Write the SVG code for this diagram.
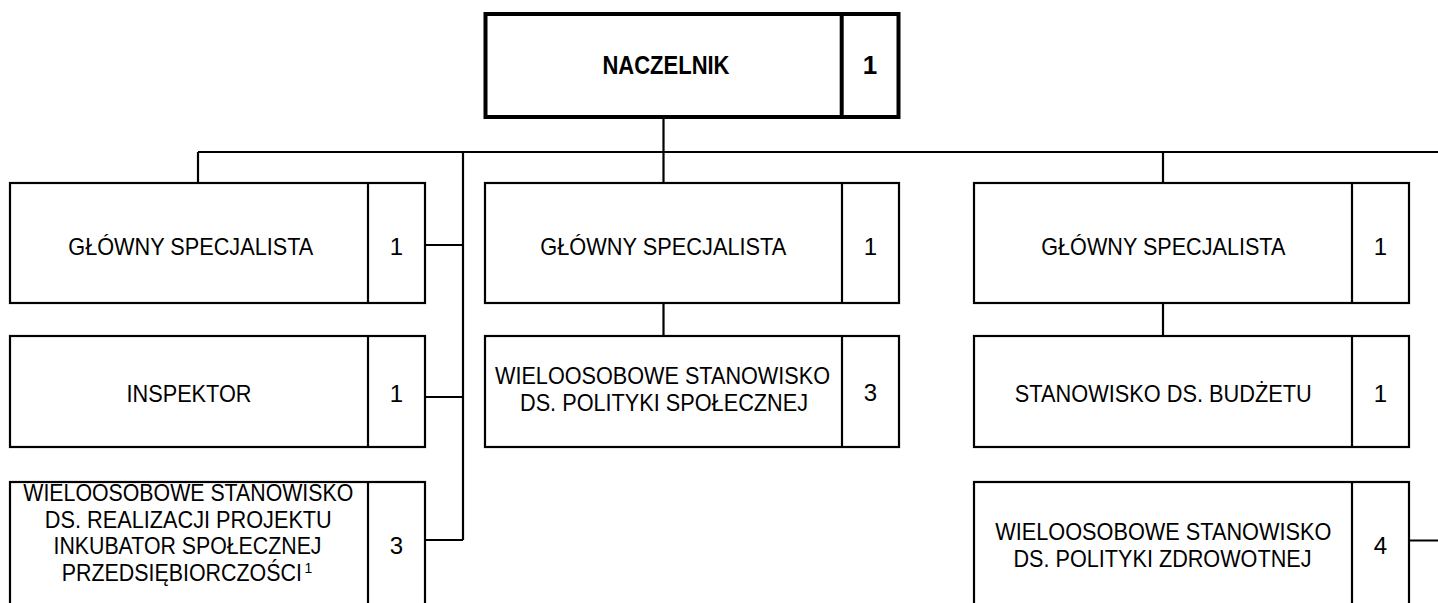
<svg xmlns="http://www.w3.org/2000/svg" width="1438" height="603" viewBox="0 0 1438 603">
<style>
.box{fill:#fff;stroke:#000;stroke-width:2.2}
.main{fill:#fff;stroke:#000;stroke-width:4}
.div{stroke:#000;stroke-width:2.2}
.divm{stroke:#000;stroke-width:4}
.con{stroke:#000;stroke-width:2.2;fill:none}
text{font-family:"Liberation Sans",Arial,sans-serif;font-size:24px;fill:#000;text-anchor:middle}
.b{font-weight:bold;font-size:26px}
.sup{font-size:14px;text-anchor:start}
.st{text-anchor:start}
</style>
<rect width="1438" height="603" fill="#fff"/>
<g id="connectors">
<path class="con" d="M663.5 117V183M198 152H1438M198 152V183M1163 152V183M463 152V540M425 245H463M425 397H463M425 540H463M663.5 303V336M1163 303V336M1409 540.5H1438"/>
</g>
<g id="naczelnik">
<rect class="main" x="485.5" y="14" width="413" height="103"/>
<line class="divm" x1="841.7" y1="14" x2="841.7" y2="117"/>
<text class="b" x="666" y="73.5" textLength="127" lengthAdjust="spacingAndGlyphs">NACZELNIK</text>
<text class="b" x="870" y="74">1</text>
</g>
<g id="gs1">
<rect class="box" x="10" y="183" width="415" height="120"/>
<line class="div" x1="368" y1="183" x2="368" y2="303"/>
<text x="190.8" y="255" textLength="245" lengthAdjust="spacingAndGlyphs">GŁÓWNY SPECJALISTA</text>
<text x="396.5" y="254.5">1</text>
</g>
<g id="inspektor">
<rect class="box" x="10" y="336" width="415" height="111"/>
<line class="div" x1="368" y1="336" x2="368" y2="447"/>
<text x="189" y="401.5" textLength="125" lengthAdjust="spacingAndGlyphs">INSPEKTOR</text>
<text x="396.5" y="401.5">1</text>
</g>
<g id="inkubator">
<rect class="box" x="10" y="482" width="415" height="130"/>
<line class="div" x1="368" y1="482" x2="368" y2="612"/>
<text x="188.3" y="501" textLength="330" lengthAdjust="spacingAndGlyphs">WIELOOSOBOWE STANOWISKO</text>
<text x="188.3" y="527.5" textLength="287" lengthAdjust="spacingAndGlyphs">DS. REALIZACJI PROJEKTU</text>
<text x="187.5" y="554" textLength="268" lengthAdjust="spacingAndGlyphs">INKUBATOR SPOŁECZNEJ</text>
<text class="st" transform="translate(61.7 580.5) scale(1 1.12)" style="font-size:21.4px">PRZEDSIĘBIORCZOŚCI</text>
<text class="sup" x="304.5" y="573">1</text>
<text x="396.5" y="553.5">3</text>
</g>
<g id="gs2">
<rect class="box" x="485" y="183" width="414" height="120"/>
<line class="div" x1="842" y1="183" x2="842" y2="303"/>
<text x="663.3" y="255" textLength="246" lengthAdjust="spacingAndGlyphs">GŁÓWNY SPECJALISTA</text>
<text x="870.5" y="254.5">1</text>
</g>
<g id="polityka-spoleczna">
<rect class="box" x="485" y="336" width="414" height="111"/>
<line class="div" x1="842" y1="336" x2="842" y2="447"/>
<text x="662.5" y="383.5" textLength="335" lengthAdjust="spacingAndGlyphs">WIELOOSOBOWE STANOWISKO</text>
<text x="664" y="410.5" textLength="288" lengthAdjust="spacingAndGlyphs">DS. POLITYKI SPOŁECZNEJ</text>
<text x="870.5" y="400.5">3</text>
</g>
<g id="gs3">
<rect class="box" x="974" y="183" width="435" height="120"/>
<line class="div" x1="1352" y1="183" x2="1352" y2="303"/>
<text x="1163.3" y="255" textLength="244" lengthAdjust="spacingAndGlyphs">GŁÓWNY SPECJALISTA</text>
<text x="1380.5" y="254.5">1</text>
</g>
<g id="budzet">
<rect class="box" x="974" y="336" width="435" height="111"/>
<line class="div" x1="1352" y1="336" x2="1352" y2="447"/>
<text x="1163.3" y="402" textLength="297" lengthAdjust="spacingAndGlyphs">STANOWISKO DS. BUDŻETU</text>
<text x="1380.5" y="401.5">1</text>
</g>
<g id="polityka-zdrowotna">
<rect class="box" x="974" y="482" width="435" height="130"/>
<line class="div" x1="1352" y1="482" x2="1352" y2="612"/>
<text x="1163.3" y="539.5" textLength="336" lengthAdjust="spacingAndGlyphs">WIELOOSOBOWE STANOWISKO</text>
<text x="1162.5" y="566.5" textLength="298" lengthAdjust="spacingAndGlyphs">DS. POLITYKI ZDROWOTNEJ</text>
<text x="1380.5" y="553.5">4</text>
</g>
</svg>
